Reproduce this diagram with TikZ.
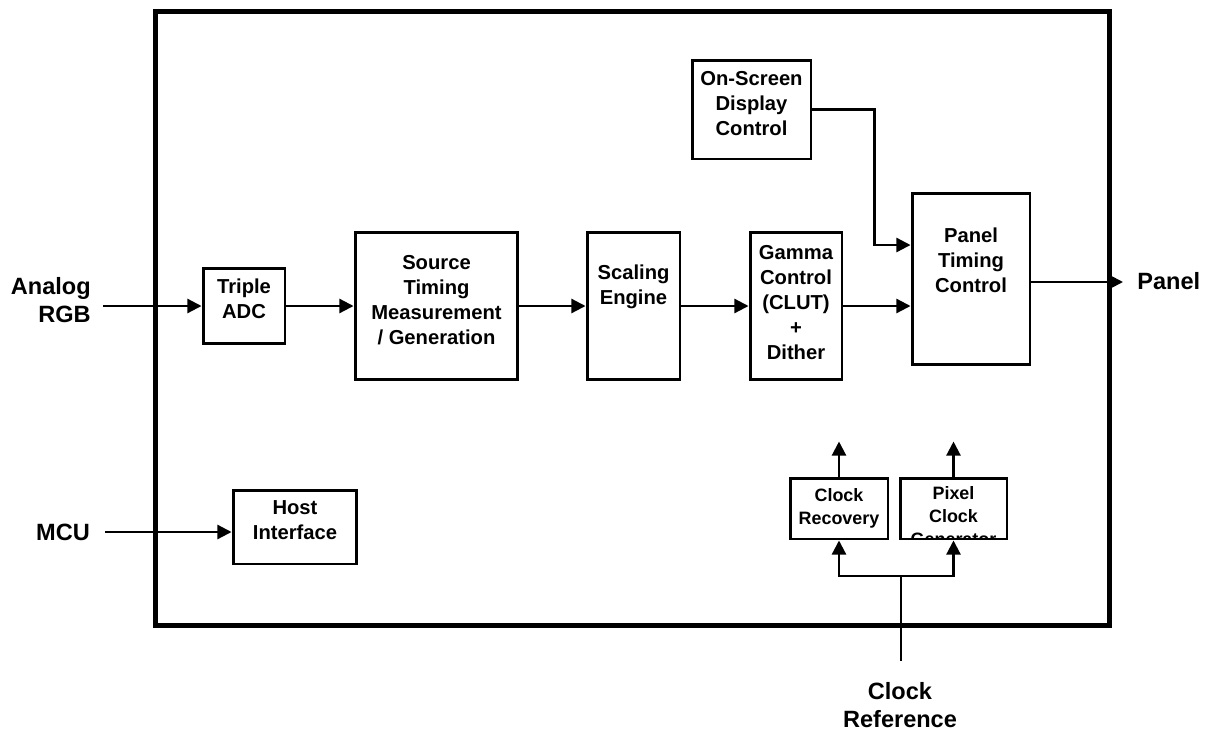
\documentclass[tikz,border=0pt]{standalone}
\usepackage{fontspec}
\setmainfont{Liberation Sans}
\usetikzlibrary{arrows.meta, calc}
\tikzset{
    blk/.style={draw, line width=1.7pt, align=center, inner sep=0pt,
        font=\fontsize{11.5}{14.3}\selectfont\bfseries},
    clk/.style={blk, font=\fontsize{10.2}{13}\selectfont\bfseries},
    sig/.style={line width=1.25pt, -{Triangle[length=8pt, width=8pt]}},
    wire/.style={line width=1.25pt},
    pin/.style={align=center, inner sep=0pt, font=\fontsize{13.4}{15.5}\selectfont\bfseries}
}
\begin{document}
\begin{tikzpicture}[x=0.02cm, y=-0.02cm]
    \useasboundingbox (0,0) rectangle (1215,731);
    % chip outline
    \node[draw, line width=2.8pt, minimum width=19.1cm, minimum height=12.3cm] (chip) at (632.5,318.5) {};
    % video path
    \node[blk, minimum width=1.64cm, minimum height=1.5cm] (adc) at (244,306) {Triple\\ADC\\[-6.3pt]};
    \node[blk, minimum width=3.26cm, minimum height=2.96cm] (src) at (436.5,306) {Source\\Timing\\Measurement\\/ Generation\\[-7.5pt]};
    \node[blk, minimum width=1.86cm, minimum height=2.96cm] (scl) at (633.5,306) {Scaling\\Engine\\[9.5pt]};
    \node[blk, minimum width=1.84cm, minimum height=2.96cm] (gam) at (796,306) {Gamma\\Control\\(CLUT)\\+\\Dither\\[-10.3pt]};
    \node[blk, minimum width=2.36cm, minimum height=3.44cm] (panel) at (971,279) {Panel\\Timing\\Control\\[7.3pt]};
    \node[blk, minimum width=2.38cm, minimum height=1.98cm] (osd) at (751.5,109.5) {On-Screen\\Display\\Control\\[-7.5pt]};
    \node[blk, minimum width=2.48cm, minimum height=1.48cm] (host) at (295,527) {Host\\Interface\\[-6.3pt]};
    % clocks
    \node[clk, minimum width=1.96cm, minimum height=1.22cm] (cr) at (839,508.5) {Clock\\Recovery};
    \node[clk, minimum width=2.14cm, minimum height=1.22cm] (pcg) at (953.5,508.5) {};
    \begin{scope}
        \clip ([shift={(0.9pt,0.9pt)}]pcg.south west) rectangle ([shift={(-0.9pt,-0.9pt)}]pcg.north east);
        \node[clk, draw=none, anchor=north] (pcgtxt) at ([yshift=-0.17cm]pcg.north) {Pixel\\Clock\\Generator};
    \end{scope}

    % pins
    \node[pin, anchor=east, align=right] (rgb) at (91,300) {Analog\\RGB};
    \node[pin] (mcu) at (63,532) {MCU};
    \node[pin, anchor=west] (paneltxt) at (1137,281) {Panel};
    \node[pin] (clkreftxt) at (900,705) {Clock\\Reference};
    \coordinate (rgbin) at (103,306);
    \coordinate (mcuin) at (105,532);
    \coordinate (panelout) at (1123,282);
    \coordinate (clkref) at (901,661);
    \coordinate (clksplit) at (901,576);

    % connections
    \draw[sig] (rgbin) -- (adc.west);
    \draw[sig] (adc) -- (src);
    \draw[sig] (src) -- (scl);
    \draw[sig] (scl) -- (gam);
    \draw[sig] (gam.east) -- (gam.east -| panel.west);
    \draw[sig] (osd.east) -- ++(62,0) |- ([yshift=0.68cm]panel.west);
    \draw[sig] (panel.east |- panelout) -- (panelout);
    \draw[sig] (mcuin) -- (mcuin -| host.west);
    \draw[sig] (cr.north) -- ++(0,-35);
    \draw[sig] (pcg.north) -- ++(0,-35);
    \draw[wire] (clkref) -- (clksplit);
    \draw[sig] (clksplit) -| (cr.south);
    \draw[sig] (clksplit) -| (pcg.south);
\end{tikzpicture}
\end{document}
